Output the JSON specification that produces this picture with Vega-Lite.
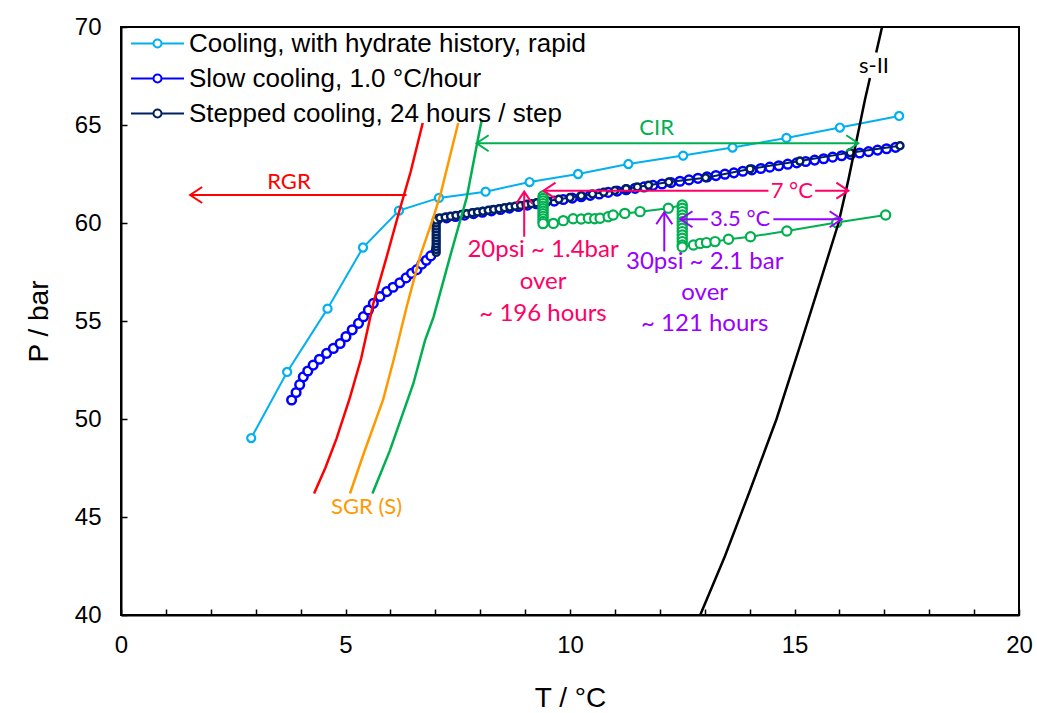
{
"$schema": "https://vega.github.io/schema/vega-lite/v6.json",
"width": 898, "height": 588,
"autosize": {"type": "none"},
"padding": {"left": 121, "top": 27, "right": 18, "bottom": 98},
"background": "white",
"config": {
 "view": {"stroke": "black", "strokeWidth": 2},
 "axis": {"domainColor": "black", "domainWidth": 2, "tickColor": "black", "tickWidth": 1.5, "grid": false, "labelFont": "Liberation Sans", "labelFontSize": 24, "labelColor": "black", "titleFont": "Liberation Sans", "titleFontSize": 28, "titleFontWeight": "normal", "titleColor": "black", "labelOverlap": false, "labelFlush": false}
},
"datasets": {
 "obs": [
  {"series":"Cooling, with hydrate history, rapid","T":2.90,"P":49.03},
  {"series":"Cooling, with hydrate history, rapid","T":3.70,"P":52.40},
  {"series":"Cooling, with hydrate history, rapid","T":4.60,"P":55.63},
  {"series":"Cooling, with hydrate history, rapid","T":5.39,"P":58.75},
  {"series":"Cooling, with hydrate history, rapid","T":6.19,"P":60.63},
  {"series":"Cooling, with hydrate history, rapid","T":7.08,"P":61.28},
  {"series":"Cooling, with hydrate history, rapid","T":8.12,"P":61.60},
  {"series":"Cooling, with hydrate history, rapid","T":9.10,"P":62.09},
  {"series":"Cooling, with hydrate history, rapid","T":10.18,"P":62.50},
  {"series":"Cooling, with hydrate history, rapid","T":11.30,"P":63.01},
  {"series":"Cooling, with hydrate history, rapid","T":12.52,"P":63.44},
  {"series":"Cooling, with hydrate history, rapid","T":13.62,"P":63.85},
  {"series":"Cooling, with hydrate history, rapid","T":14.82,"P":64.34},
  {"series":"Cooling, with hydrate history, rapid","T":16.01,"P":64.87},
  {"series":"Cooling, with hydrate history, rapid","T":17.33,"P":65.46},
  {"series":"Slow cooling, 1.0 °C/hour","T":3.80,"P":50.97},
  {"series":"Slow cooling, 1.0 °C/hour","T":3.90,"P":51.35},
  {"series":"Slow cooling, 1.0 °C/hour","T":3.98,"P":51.75},
  {"series":"Slow cooling, 1.0 °C/hour","T":4.06,"P":52.15},
  {"series":"Slow cooling, 1.0 °C/hour","T":4.16,"P":52.45},
  {"series":"Slow cooling, 1.0 °C/hour","T":4.28,"P":52.75},
  {"series":"Slow cooling, 1.0 °C/hour","T":4.42,"P":53.05},
  {"series":"Slow cooling, 1.0 °C/hour","T":4.58,"P":53.35},
  {"series":"Slow cooling, 1.0 °C/hour","T":4.73,"P":53.60},
  {"series":"Slow cooling, 1.0 °C/hour","T":4.88,"P":53.85},
  {"series":"Slow cooling, 1.0 °C/hour","T":5.01,"P":54.20},
  {"series":"Slow cooling, 1.0 °C/hour","T":5.15,"P":54.55},
  {"series":"Slow cooling, 1.0 °C/hour","T":5.29,"P":54.88},
  {"series":"Slow cooling, 1.0 °C/hour","T":5.40,"P":55.22},
  {"series":"Slow cooling, 1.0 °C/hour","T":5.51,"P":55.56},
  {"series":"Slow cooling, 1.0 °C/hour","T":5.62,"P":55.90},
  {"series":"Slow cooling, 1.0 °C/hour","T":5.77,"P":56.25},
  {"series":"Slow cooling, 1.0 °C/hour","T":5.92,"P":56.50},
  {"series":"Slow cooling, 1.0 °C/hour","T":6.06,"P":56.72},
  {"series":"Slow cooling, 1.0 °C/hour","T":6.21,"P":56.95},
  {"series":"Slow cooling, 1.0 °C/hour","T":6.35,"P":57.20},
  {"series":"Slow cooling, 1.0 °C/hour","T":6.47,"P":57.43},
  {"series":"Slow cooling, 1.0 °C/hour","T":6.59,"P":57.62},
  {"series":"Slow cooling, 1.0 °C/hour","T":6.70,"P":57.90},
  {"series":"Slow cooling, 1.0 °C/hour","T":6.80,"P":58.10},
  {"series":"Slow cooling, 1.0 °C/hour","T":6.90,"P":58.32},
  {"series":"Slow cooling, 1.0 °C/hour","T":7.05,"P":60.19},
  {"series":"Slow cooling, 1.0 °C/hour","T":7.25,"P":60.26},
  {"series":"Slow cooling, 1.0 °C/hour","T":7.45,"P":60.33},
  {"series":"Slow cooling, 1.0 °C/hour","T":7.65,"P":60.40},
  {"series":"Slow cooling, 1.0 °C/hour","T":7.85,"P":60.48},
  {"series":"Slow cooling, 1.0 °C/hour","T":8.05,"P":60.55},
  {"series":"Slow cooling, 1.0 °C/hour","T":8.25,"P":60.62},
  {"series":"Slow cooling, 1.0 °C/hour","T":8.45,"P":60.69},
  {"series":"Slow cooling, 1.0 °C/hour","T":8.65,"P":60.76},
  {"series":"Slow cooling, 1.0 °C/hour","T":8.85,"P":60.84},
  {"series":"Slow cooling, 1.0 °C/hour","T":9.05,"P":60.91},
  {"series":"Slow cooling, 1.0 °C/hour","T":9.25,"P":60.98},
  {"series":"Slow cooling, 1.0 °C/hour","T":9.45,"P":61.05},
  {"series":"Slow cooling, 1.0 °C/hour","T":9.65,"P":61.12},
  {"series":"Slow cooling, 1.0 °C/hour","T":9.85,"P":61.20},
  {"series":"Slow cooling, 1.0 °C/hour","T":10.05,"P":61.27},
  {"series":"Slow cooling, 1.0 °C/hour","T":10.25,"P":61.34},
  {"series":"Slow cooling, 1.0 °C/hour","T":10.45,"P":61.41},
  {"series":"Slow cooling, 1.0 °C/hour","T":10.65,"P":61.48},
  {"series":"Slow cooling, 1.0 °C/hour","T":10.85,"P":61.56},
  {"series":"Slow cooling, 1.0 °C/hour","T":11.05,"P":61.63},
  {"series":"Slow cooling, 1.0 °C/hour","T":11.25,"P":61.70},
  {"series":"Slow cooling, 1.0 °C/hour","T":11.45,"P":61.77},
  {"series":"Slow cooling, 1.0 °C/hour","T":11.65,"P":61.84},
  {"series":"Slow cooling, 1.0 °C/hour","T":11.85,"P":61.92},
  {"series":"Slow cooling, 1.0 °C/hour","T":12.05,"P":61.99},
  {"series":"Slow cooling, 1.0 °C/hour","T":12.25,"P":62.06},
  {"series":"Slow cooling, 1.0 °C/hour","T":12.45,"P":62.13},
  {"series":"Slow cooling, 1.0 °C/hour","T":12.65,"P":62.20},
  {"series":"Slow cooling, 1.0 °C/hour","T":12.85,"P":62.28},
  {"series":"Slow cooling, 1.0 °C/hour","T":13.05,"P":62.35},
  {"series":"Slow cooling, 1.0 °C/hour","T":13.25,"P":62.42},
  {"series":"Slow cooling, 1.0 °C/hour","T":13.45,"P":62.49},
  {"series":"Slow cooling, 1.0 °C/hour","T":13.65,"P":62.56},
  {"series":"Slow cooling, 1.0 °C/hour","T":13.85,"P":62.64},
  {"series":"Slow cooling, 1.0 °C/hour","T":14.05,"P":62.71},
  {"series":"Slow cooling, 1.0 °C/hour","T":14.25,"P":62.78},
  {"series":"Slow cooling, 1.0 °C/hour","T":14.45,"P":62.85},
  {"series":"Slow cooling, 1.0 °C/hour","T":14.65,"P":62.92},
  {"series":"Slow cooling, 1.0 °C/hour","T":14.85,"P":63.00},
  {"series":"Slow cooling, 1.0 °C/hour","T":15.05,"P":63.07},
  {"series":"Slow cooling, 1.0 °C/hour","T":15.25,"P":63.14},
  {"series":"Slow cooling, 1.0 °C/hour","T":15.45,"P":63.21},
  {"series":"Slow cooling, 1.0 °C/hour","T":15.65,"P":63.28},
  {"series":"Slow cooling, 1.0 °C/hour","T":15.85,"P":63.36},
  {"series":"Slow cooling, 1.0 °C/hour","T":16.05,"P":63.43},
  {"series":"Slow cooling, 1.0 °C/hour","T":16.25,"P":63.50},
  {"series":"Slow cooling, 1.0 °C/hour","T":16.45,"P":63.57},
  {"series":"Slow cooling, 1.0 °C/hour","T":16.65,"P":63.64},
  {"series":"Slow cooling, 1.0 °C/hour","T":16.85,"P":63.72},
  {"series":"Slow cooling, 1.0 °C/hour","T":17.05,"P":63.79},
  {"series":"Slow cooling, 1.0 °C/hour","T":17.25,"P":63.86},
  {"series":"Stepped cooling, 24 hours / step","T":7.02,"P":58.50},
  {"series":"Stepped cooling, 24 hours / step","T":7.02,"P":58.65},
  {"series":"Stepped cooling, 24 hours / step","T":7.02,"P":58.80},
  {"series":"Stepped cooling, 24 hours / step","T":7.02,"P":58.95},
  {"series":"Stepped cooling, 24 hours / step","T":7.02,"P":59.10},
  {"series":"Stepped cooling, 24 hours / step","T":7.02,"P":59.25},
  {"series":"Stepped cooling, 24 hours / step","T":7.02,"P":59.40},
  {"series":"Stepped cooling, 24 hours / step","T":7.02,"P":59.55},
  {"series":"Stepped cooling, 24 hours / step","T":7.02,"P":59.70},
  {"series":"Stepped cooling, 24 hours / step","T":7.02,"P":59.85},
  {"series":"Stepped cooling, 24 hours / step","T":7.02,"P":60.00},
  {"series":"Stepped cooling, 24 hours / step","T":7.02,"P":60.15},
  {"series":"Stepped cooling, 24 hours / step","T":7.10,"P":60.26},
  {"series":"Stepped cooling, 24 hours / step","T":7.22,"P":60.30},
  {"series":"Stepped cooling, 24 hours / step","T":7.34,"P":60.34},
  {"series":"Stepped cooling, 24 hours / step","T":7.46,"P":60.39},
  {"series":"Stepped cooling, 24 hours / step","T":7.58,"P":60.43},
  {"series":"Stepped cooling, 24 hours / step","T":7.70,"P":60.47},
  {"series":"Stepped cooling, 24 hours / step","T":7.82,"P":60.52},
  {"series":"Stepped cooling, 24 hours / step","T":7.94,"P":60.56},
  {"series":"Stepped cooling, 24 hours / step","T":8.06,"P":60.60},
  {"series":"Stepped cooling, 24 hours / step","T":8.18,"P":60.65},
  {"series":"Stepped cooling, 24 hours / step","T":8.30,"P":60.69},
  {"series":"Stepped cooling, 24 hours / step","T":8.42,"P":60.73},
  {"series":"Stepped cooling, 24 hours / step","T":8.54,"P":60.78},
  {"series":"Stepped cooling, 24 hours / step","T":8.66,"P":60.82},
  {"series":"Stepped cooling, 24 hours / step","T":8.78,"P":60.86},
  {"series":"Stepped cooling, 24 hours / step","T":8.90,"P":60.90},
  {"series":"Stepped cooling, 24 hours / step","T":9.02,"P":60.95},
  {"series":"Stepped cooling, 24 hours / step","T":9.14,"P":60.99},
  {"series":"Stepped cooling, 24 hours / step","T":9.26,"P":61.03},
  {"series":"Stepped cooling, 24 hours / step","T":9.38,"P":61.08},
  {"series":"Stepped cooling, 24 hours / step","T":9.50,"P":61.12},
  {"series":"Stepped cooling, 24 hours / step","T":9.75,"P":61.21},
  {"series":"Stepped cooling, 24 hours / step","T":10.00,"P":61.30},
  {"series":"Stepped cooling, 24 hours / step","T":10.25,"P":61.39},
  {"series":"Stepped cooling, 24 hours / step","T":10.50,"P":61.48},
  {"series":"Stepped cooling, 24 hours / step","T":10.75,"P":61.57},
  {"series":"Stepped cooling, 24 hours / step","T":11.00,"P":61.66},
  {"series":"Stepped cooling, 24 hours / step","T":11.25,"P":61.75},
  {"series":"Stepped cooling, 24 hours / step","T":11.50,"P":61.84},
  {"series":"Stepped cooling, 24 hours / step","T":11.75,"P":61.93},
  {"series":"Stepped cooling, 24 hours / step","T":12.20,"P":62.09},
  {"series":"Stepped cooling, 24 hours / step","T":13.02,"P":62.31},
  {"series":"Stepped cooling, 24 hours / step","T":14.01,"P":62.76},
  {"series":"Stepped cooling, 24 hours / step","T":15.12,"P":63.16},
  {"series":"Stepped cooling, 24 hours / step","T":16.24,"P":63.59},
  {"series":"Stepped cooling, 24 hours / step","T":17.35,"P":63.94}
 ],
 "green": [
  {"T":9.40,"P":61.38},{"T":9.40,"P":61.25},{"T":9.40,"P":61.12},{"T":9.40,"P":60.99},{"T":9.40,"P":60.86},{"T":9.40,"P":60.73},{"T":9.40,"P":60.60},{"T":9.40,"P":60.47},{"T":9.40,"P":60.34},{"T":9.40,"P":60.21},{"T":9.40,"P":60.08},{"T":9.40,"P":59.97},
  {"T":9.63,"P":59.98},{"T":9.85,"P":60.12},{"T":10.07,"P":60.22},{"T":10.25,"P":60.20},{"T":10.41,"P":60.24},{"T":10.55,"P":60.22},{"T":10.67,"P":60.24},{"T":10.85,"P":60.32},{"T":10.96,"P":60.41},{"T":11.22,"P":60.49},{"T":11.56,"P":60.58},{"T":12.19,"P":60.75},
  {"T":12.50,"P":60.92},{"T":12.50,"P":60.75},{"T":12.50,"P":60.58},{"T":12.50,"P":60.41},{"T":12.50,"P":60.24},{"T":12.50,"P":60.07},{"T":12.50,"P":59.90},{"T":12.50,"P":59.73},{"T":12.50,"P":59.56},{"T":12.50,"P":59.39},{"T":12.50,"P":59.22},{"T":12.50,"P":59.05},{"T":12.50,"P":58.88},{"T":12.50,"P":58.78},
  {"T":12.75,"P":58.88},{"T":12.90,"P":58.96},{"T":13.04,"P":59.00},{"T":13.23,"P":59.05},{"T":13.53,"P":59.17},{"T":14.02,"P":59.30},{"T":14.83,"P":59.59},{"T":15.94,"P":60.02},{"T":17.03,"P":60.41}
 ],
 "curves": [
  {"grp":"RGR","part":"a","T":4.30,"P":46.2},{"grp":"RGR","part":"a","T":4.55,"P":47.5},{"grp":"RGR","part":"a","T":4.80,"P":49.0},{"grp":"RGR","part":"a","T":5.10,"P":51.1},{"grp":"RGR","part":"a","T":5.35,"P":53.1},{"grp":"RGR","part":"a","T":5.62,"P":55.9},{"grp":"RGR","part":"a","T":5.92,"P":58.3},{"grp":"RGR","part":"a","T":6.21,"P":60.7},{"grp":"RGR","part":"a","T":6.45,"P":62.6},{"grp":"RGR","part":"a","T":6.72,"P":65.1},
  {"grp":"SGR","part":"a","T":5.10,"P":46.2},{"grp":"SGR","part":"a","T":5.40,"P":48.2},{"grp":"SGR","part":"a","T":5.84,"P":51.0},{"grp":"SGR","part":"a","T":6.07,"P":53.0},{"grp":"SGR","part":"a","T":6.36,"P":55.7},{"grp":"SGR","part":"a","T":6.66,"P":58.3},{"grp":"SGR","part":"a","T":6.96,"P":60.3},{"grp":"SGR","part":"a","T":7.12,"P":61.5},{"grp":"SGR","part":"a","T":7.51,"P":65.1},
  {"grp":"CIR","part":"a","T":5.60,"P":46.2},{"grp":"CIR","part":"a","T":5.99,"P":48.4},{"grp":"CIR","part":"a","T":6.51,"P":51.8},{"grp":"CIR","part":"a","T":6.77,"P":54.0},{"grp":"CIR","part":"a","T":6.96,"P":55.2},{"grp":"CIR","part":"a","T":7.33,"P":58.3},{"grp":"CIR","part":"a","T":7.70,"P":61.3},{"grp":"CIR","part":"a","T":7.96,"P":64.4},{"grp":"CIR","part":"a","T":8.03,"P":65.2},
  {"grp":"sII","part":"a","T":12.90,"P":40.0},{"grp":"sII","part":"a","T":13.45,"P":43.0},{"grp":"sII","part":"a","T":14.00,"P":46.3},{"grp":"sII","part":"a","T":14.60,"P":50.0},{"grp":"sII","part":"a","T":15.16,"P":54.0},{"grp":"sII","part":"a","T":15.60,"P":57.2},{"grp":"sII","part":"a","T":15.98,"P":60.0},{"grp":"sII","part":"a","T":16.20,"P":62.2},{"grp":"sII","part":"a","T":16.57,"P":66.3},{"grp":"sII","part":"a","T":16.68,"P":67.4},
  {"grp":"sII","part":"b","T":16.82,"P":68.7},{"grp":"sII","part":"b","T":16.95,"P":70.0}
 ],
 "arrows": [
  {"grp":"RGR","T":1.54,"T2":6.36,"P":61.43,"P2":61.43},
  {"grp":"CIR","T":7.92,"T2":16.42,"P":64.07,"P2":64.07},
  {"grp":"pink","T":9.41,"T2":14.42,"P":61.65,"P2":61.65},
  {"grp":"pink","T":15.46,"T2":16.20,"P":61.65,"P2":61.65},
  {"grp":"pink","T":8.98,"T2":8.98,"P":59.3,"P2":61.6},
  {"grp":"purple","T":12.46,"T2":13.07,"P":60.19,"P2":60.19},
  {"grp":"purple","T":14.53,"T2":16.05,"P":60.19,"P2":60.19},
  {"grp":"purple","T":12.10,"T2":12.10,"P":58.55,"P2":60.55}
 ],
 "heads": [
  {"grp":"RGR","dir":"left","T":1.54,"P":61.43},
  {"grp":"CIR","dir":"left","T":7.92,"P":64.07},
  {"grp":"CIR","dir":"right","T":16.42,"P":64.07},
  {"grp":"pink","dir":"left","T":9.41,"P":61.65},
  {"grp":"pink","dir":"right","T":16.20,"P":61.65},
  {"grp":"pink","dir":"up","T":8.98,"P":61.6},
  {"grp":"purple","dir":"left","T":12.46,"P":60.19},
  {"grp":"purple","dir":"right","T":16.05,"P":60.19},
  {"grp":"purple","dir":"up","T":12.10,"P":60.55}
 ],
 "labels": [
  {"grp":"RGR","text":"RGR","T":3.74,"P":62.09},
  {"grp":"SGR","text":"SGR (S)","T":5.47,"P":45.53},
  {"grp":"CIR","text":"CIR","T":11.93,"P":64.85},
  {"grp":"sII","text":"s-II","T":16.77,"P":68.0},
  {"grp":"pink","text":"7 °C","T":14.94,"P":61.65},
  {"grp":"purple","text":"3.5 °C","T":13.79,"P":60.19}
 ],
 "notes": [
  {"grp":"pink","text":"20psi ~ 1.4bar","T":9.40,"P":58.62},
  {"grp":"pink","text":"over","T":9.40,"P":56.99},
  {"grp":"pink","text":"~ 196 hours","T":9.40,"P":55.36},
  {"grp":"purple","text":"30psi ~ 2.1 bar","T":13.0,"P":58.01},
  {"grp":"purple","text":"over","T":13.0,"P":56.43},
  {"grp":"purple","text":"~ 121 hours","T":13.0,"P":54.85}
 ]
},
"encoding": {
 "x": {"field": "T", "type": "quantitative", "scale": {"domain": [0, 20], "nice": false, "zero": false},
  "axis": {"title": "T / °C", "values": [0,1,2,3,4,5,6,7,8,9,10,11,12,13,14,15,16,17,18,19,20], "labelExpr": "datum.value % 5 === 0 ? datum.label : ''", "tickSize": -6, "labelPadding": 24, "titlePadding": 27}},
 "y": {"field": "P", "type": "quantitative", "scale": {"domain": [40, 70], "nice": false, "zero": false},
  "axis": {"title": "P / bar", "values": [40,45,50,55,60,65,70], "tickSize": -6, "labelPadding": 26, "titlePadding": 21}}
},
"layer": [
 {"data": {"name": "obs"}, "transform": [{"filter": "datum.series === 'Cooling, with hydrate history, rapid'"}],
  "mark": {"type": "line", "strokeWidth": 2, "point": {"filled": false, "fill": "white", "size": 65, "strokeWidth": 2.2, "opacity": 1}},
  "encoding": {"color": {"field": "series", "type": "nominal",
   "scale": {"domain": ["Cooling, with hydrate history, rapid", "Slow cooling, 1.0 °C/hour", "Stepped cooling, 24 hours / step"], "range": ["#00B0F0", "#0000FF", "#002060"]},
   "legend": {"orient": "none", "legendX": 15, "legendY": -5, "title": null, "symbolType": "M-1.293,0L-0.195,0M0.195,0L1.293,0M-0.195,0A0.195,0.195,0,1,0,0.195,0A0.195,0.195,0,1,0,-0.195,0Z", "symbolSize": 1681, "symbolStrokeWidth": 2, "symbolFillColor": "white", "symbolOpacity": 1, "labelFont": "Liberation Sans", "labelFontSize": 26, "labelColor": "black", "labelLimit": 700, "labelOffset": 10, "rowPadding": 0, "padding": 0}}}},
 {"data": {"name": "obs"}, "transform": [{"filter": "datum.series === 'Slow cooling, 1.0 °C/hour'"}],
  "mark": {"type": "line", "strokeWidth": 2, "point": {"filled": false, "fill": "white", "size": 75, "strokeWidth": 2.5, "opacity": 1}},
  "encoding": {"color": {"field": "series", "type": "nominal"}}},
 {"data": {"name": "obs"}, "transform": [{"filter": "datum.series === 'Stepped cooling, 24 hours / step'"}],
  "mark": {"type": "line", "strokeWidth": 2, "point": {"filled": false, "fill": "white", "size": 48, "strokeWidth": 2.5, "opacity": 1}},
  "encoding": {"color": {"field": "series", "type": "nominal"}}},
 {"data": {"name": "green"},
  "mark": {"type": "line", "strokeWidth": 2, "color": "#00B050", "point": {"filled": false, "fill": "white", "stroke": "#00B050", "size": 85, "strokeWidth": 2.2, "opacity": 1}}},
 {"data": {"name": "curves"},
  "mark": {"type": "line", "strokeWidth": 2.5},
  "encoding": {"detail": {"field": "part"}, "stroke": {"field": "grp", "type": "nominal", "legend": null,
   "scale": {"domain": ["RGR", "SGR", "CIR", "sII", "pink", "purple"], "range": ["#FF0000", "#FF9900", "#00B050", "#000000", "#FF0066", "#9900FF"]}}}},
 {"data": {"name": "arrows"},
  "mark": {"type": "rule", "strokeWidth": 2},
  "encoding": {"x2": {"field": "T2"}, "y2": {"field": "P2"}, "stroke": {"field": "grp", "type": "nominal", "legend": null}}},
 {"data": {"name": "heads"},
  "mark": {"type": "point", "filled": false, "strokeWidth": 2, "size": 256, "opacity": 1},
  "encoding": {"shape": {"field": "dir", "type": "nominal", "legend": null,
   "scale": {"domain": ["left", "right", "up"], "range": ["M1.5,-1L0,0L1.5,1", "M-1.5,-1L0,0L-1.5,1", "M-1,1.5L0,0L1,1.5"]}},
   "stroke": {"field": "grp", "type": "nominal", "legend": null}}},
 {"data": {"name": "labels"},
  "mark": {"type": "text", "font": "Lato", "fontSize": 22, "align": "center", "baseline": "middle"},
  "encoding": {"text": {"field": "text"}, "fill": {"field": "grp", "type": "nominal", "legend": null,
   "scale": {"domain": ["RGR", "SGR", "CIR", "sII", "pink", "purple"], "range": ["#FF0000", "#FF9900", "#00B050", "#000000", "#FF0066", "#9900FF"]}}}},
 {"data": {"name": "notes"},
  "mark": {"type": "text", "font": "Lato", "fontSize": 24, "align": "center", "baseline": "middle"},
  "encoding": {"text": {"field": "text"}, "fill": {"field": "grp", "type": "nominal", "legend": null}}}
]
}
